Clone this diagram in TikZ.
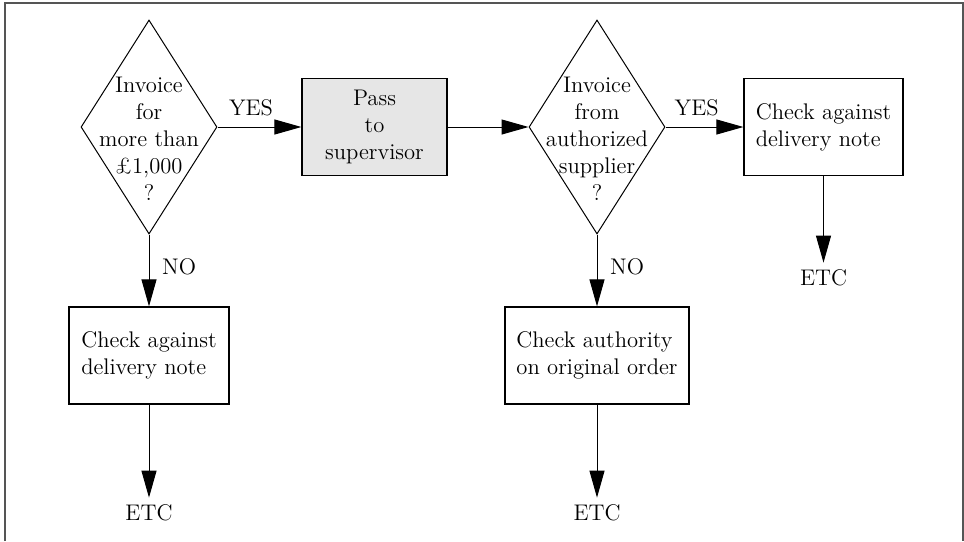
\documentclass[tikz,border=0pt]{standalone}
\usepackage{tikz}
\usetikzlibrary{shapes.geometric, arrows.meta, positioning, calc}

\begin{document}
\begin{tikzpicture}[x=0.5pt, y=-0.5pt,
  font=\fontsize{11.3}{13.4}\selectfont,
  line width=0.5pt,
  decision/.style={diamond, draw, aspect=0.64, inner sep=-10pt,
    minimum width=68pt, minimum height=107pt, align=center,
    text height=73pt, text depth=0pt},
  process/.style={rectangle, draw, line width=0.6pt, minimum height=48.5pt, inner sep=4pt},
  flow/.style={-{Triangle[length=13.5pt, width=7.5pt]}}]
% --- CORES E MOLDURA ---
\definecolor{supgray}{HTML}{E6E6E6}
\definecolor{framegray}{HTML}{555555}
\useasboundingbox (0,0) rectangle (964,541);
\draw[line width=1pt, draw=framegray] (5,541) -- (5,3) -- (963,3) -- (963,541);

% LAYER 1: first decision and supervisor
\node[decision] (dec1) at (149,127) {Invoice\\for\\more than\\£1,000\\?};
\node[process, fill=supgray, minimum width=72.5pt, align=center] (pass) at (374.5,127) {Pass\\to\\supervisor};

% LAYER 2: second decision and check on the right
\node[decision] (dec2) at (597,127) {Invoice\\from\\authorized\\supplier\\?};
\node[process, minimum width=79.5pt, align=left] (check1) at (823.5,127) {Check against\\delivery note};

% LAYER 3: checks below the decisions
\node[process, minimum width=80pt, align=left] (check2) at (149,355.5) {Check against\\delivery note};
\node[process, minimum width=92pt, align=left] (auth) at (597,355.5) {Check authority\\on original order};

% LAYER 4: ends
\node (etc1) at (823.5,278) {ETC};
\node (etc2) at (149,513) {ETC};
\node (etc3) at (597,513) {ETC};

% LAYER 5: connectors
\draw[flow] (dec1.east) -- node[above=2pt, pos=0.4] {YES} (pass.west);
\draw[flow] (pass.east) -- (dec2.west);
\draw[flow] (dec2.east) -- node[above=2pt, pos=0.4] {YES} (check1.west);
\draw[flow] (dec1.south) -- node[right=3pt, pos=0.45] {NO} (check2.north);
\draw[flow] (dec2.south) -- node[right=3pt, pos=0.45] {NO} (auth.north);
\draw[flow] (check1.south) -- (etc1.north);
\draw[flow] (check2.south) -- (etc2.north);
\draw[flow] (auth.south) -- (etc3.north);
\end{tikzpicture}
\end{document}
